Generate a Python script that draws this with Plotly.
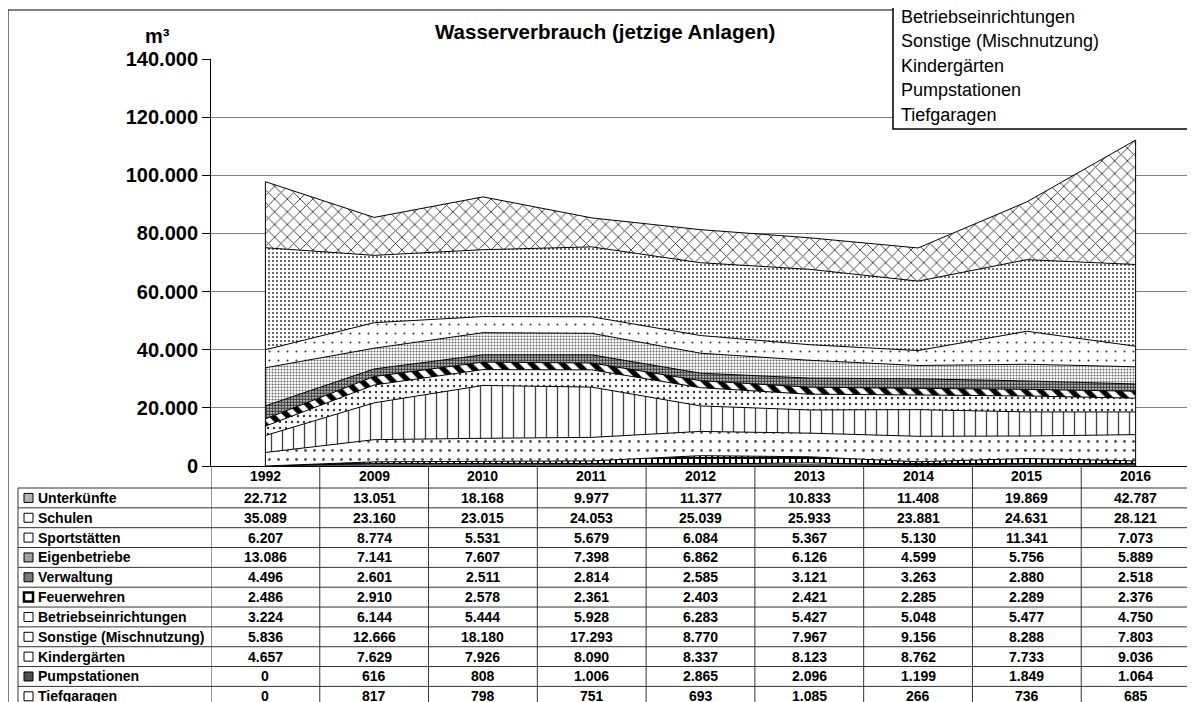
import plotly.graph_objects as go

# ---------------- data ----------------
years = ["1992", "2009", "2010", "2011", "2012", "2013", "2014", "2015", "2016"]

unterkuenfte = [22712, 13051, 18168, 9977, 11377, 10833, 11408, 19869, 42787]
schulen = [35089, 23160, 23015, 24053, 25039, 25933, 23881, 24631, 28121]
sportstaetten = [6207, 8774, 5531, 5679, 6084, 5367, 5130, 11341, 7073]
eigenbetriebe = [13086, 7141, 7607, 7398, 6862, 6126, 4599, 5756, 5889]
verwaltung = [4496, 2601, 2511, 2814, 2585, 3121, 3263, 2880, 2518]
feuerwehren = [2486, 2910, 2578, 2361, 2403, 2421, 2285, 2289, 2376]
betriebseinrichtungen = [3224, 6144, 5444, 5928, 6283, 5427, 5048, 5477, 4750]
sonstige = [5836, 12666, 18180, 17293, 8770, 7967, 9156, 8288, 7803]
kindergaerten = [4657, 7629, 7926, 8090, 8337, 8123, 8762, 7733, 9036]
pumpstationen = [0, 616, 808, 1006, 2865, 2096, 1199, 1849, 1064]
tiefgaragen = [0, 817, 798, 751, 693, 1085, 266, 736, 685]

# table order (top of table = top of stack)
series_names = ["Unterkünfte", "Schulen", "Sportstätten", "Eigenbetriebe", "Verwaltung",
                "Feuerwehren", "Betriebseinrichtungen", "Sonstige (Mischnutzung)",
                "Kindergärten", "Pumpstationen", "Tiefgaragen"]
series_values = [unterkuenfte, schulen, sportstaetten, eigenbetriebe, verwaltung,
                 feuerwehren, betriebseinrichtungen, sonstige, kindergaerten,
                 pumpstationen, tiefgaragen]
legend_visible = ["Betriebseinrichtungen", "Sonstige (Mischnutzung)", "Kindergärten",
                  "Pumpstationen", "Tiefgaragen"]

title_text = "Wasserverbrauch (jetzige Anlagen)"
unit_text = "m³"

# ---------------- styles ----------------
patterns = {
    "Unterkünfte": dict(shape="x", size=9, solidity=0.2, fgcolor="#404040"),
    "Schulen": dict(shape=".", size=4, solidity=0.17, fgcolor="#2a2a2a"),
    "Sportstätten": dict(shape=".", size=9, solidity=0.04, fgcolor="#333333"),
    "Eigenbetriebe": dict(shape=".", size=3, solidity=0.35, fgcolor="#666666"),
    "Verwaltung": dict(shape=".", size=3, solidity=0.7, fgcolor="#3a3a3a"),
    "Feuerwehren": dict(shape="\\", size=11, solidity=0.5, fgcolor="#000000"),
    "Betriebseinrichtungen": dict(shape=".", size=6, solidity=0.12, fgcolor="#333333"),
    "Sonstige (Mischnutzung)": dict(shape="|", size=11, solidity=0.12, fgcolor="#444444"),
    "Kindergärten": dict(shape=".", size=9, solidity=0.08, fgcolor="#555555"),
    "Pumpstationen": dict(shape="+", size=6, solidity=0.55, fgcolor="#000000"),
    "Tiefgaragen": dict(shape="-", size=4, solidity=0.4, fgcolor="#333333"),
}
icon_fill = ["#b4b4b4", "#ffffff", "#ffffff", "#a0a0a0", "#787878", "#ffffff",
             "#ffffff", "#ffffff", "#ffffff", "#505050", "#ffffff"]
icon_width = [1, 1, 1, 1, 1, 2.5, 1, 1, 1, 1, 1]

FONT = "Arial, Liberation Sans, sans-serif"
PAGE_W, PAGE_H = 1195, 702
OFF = 8                      # default body margin of the html page
W, H = PAGE_W - OFF, PAGE_H - OFF
L, T, PW, PH = 211, 59, 979, 407   # plot area in page pixels
ML, MT = L - OFF, T - OFF
MR = W - ML - PW
MB = H - MT - PH


def px2x(px):
    return (px - L) / PW


def py2y(py):
    return (T + PH - py) / PH


xs = list(range(len(years)))
fig = go.Figure()

# stacked areas, bottom first
for name, vals in reversed(list(zip(series_names, series_values))):
    p = patterns[name]
    fig.add_trace(go.Scatter(
        x=xs, y=vals, name=name, stackgroup="one", mode="lines",
        line=dict(color="black", width=1),
        fillcolor="white",
        fillpattern=dict(shape=p["shape"], size=p["size"], solidity=p["solidity"],
                         fgcolor=p["fgcolor"], bgcolor="white", fgopacity=1),
        hoverinfo="skip", showlegend=False))

totals = [sum(v[i] for v in series_values) for i in range(len(years))]
shapes = []
# vertical edges of the area block
for i in (0, len(years) - 1):
    shapes.append(dict(type="line", xref="x", yref="y", x0=i, x1=i, y0=0, y1=totals[i],
                       line=dict(color="black", width=1)))

# outer chart border
shapes.append(dict(type="rect", xref="paper", yref="paper", x0=px2x(8), x1=px2x(1192),
                   y0=py2y(720), y1=py2y(10), line=dict(color="black", width=1),
                   layer="below"))

# ---------------- data table ----------------
header_top, header_bottom = 466, 488
row_h = 19.84
n_rows = len(series_names)
table_bottom = header_bottom + row_h * (n_rows + 0.5)
# column separators
for k in range(len(years) + 1):
    shapes.append(dict(type="line", xref="x", yref="paper", x0=k - 0.5, x1=k - 0.5,
                       y0=py2y(header_top), y1=py2y(table_bottom),
                       line=dict(color="#333333", width=1)))
# left border of label column
shapes.append(dict(type="line", xref="paper", yref="paper", x0=px2x(18), x1=px2x(18),
                   y0=py2y(header_bottom), y1=py2y(table_bottom),
                   line=dict(color="#333333", width=1)))
# row lines
for r in range(n_rows + 1):
    yy = py2y(header_bottom + row_h * r)
    shapes.append(dict(type="line", xref="paper", yref="paper", x0=px2x(18), x1=1,
                       y0=yy, y1=yy, line=dict(color="#333333", width=1)))

annotations = []
for i, yr in enumerate(years):
    annotations.append(dict(x=i, y=py2y((header_top + header_bottom) / 2 - 1), xref="x", yref="paper",
                            text=yr, showarrow=False, xanchor="center", yanchor="middle",
                            font=dict(family=FONT, size=14, color="black", weight="bold")))


def fmt(v):
    return f"{v:,}".replace(",", ".")


for r, (name, vals) in enumerate(zip(series_names, series_values)):
    cy = header_bottom + row_h * (r + 0.5)
    annotations.append(dict(x=px2x(36), y=py2y(cy), xref="paper", yref="paper",
                            text=name, showarrow=False, xanchor="left", yanchor="middle",
                            font=dict(family=FONT, size=14, color="black", weight="bold")))
    shapes.append(dict(type="rect", xref="paper", yref="paper",
                       x0=px2x(24), x1=px2x(33), y0=py2y(cy + 4.5), y1=py2y(cy - 4.5),
                       fillcolor=icon_fill[r], line=dict(color="black", width=icon_width[r])))
    for i, v in enumerate(vals):
        annotations.append(dict(x=i, y=py2y(cy), xref="x", yref="paper",
                                text=fmt(v), showarrow=False, xanchor="center", yanchor="middle",
                                font=dict(family=FONT, size=14, color="black", weight="bold")))

# ---------------- legend box (partly cut off) ----------------
shapes.append(dict(type="rect", xref="paper", yref="paper", x0=px2x(893), x1=px2x(1210),
                   y0=py2y(129), y1=py2y(-10), fillcolor="white",
                   line=dict(color="black", width=1.5), layer="above"))
for j, name in enumerate(legend_visible):
    cy = 16.7 + 24.6 * j
    annotations.append(dict(x=px2x(899), y=py2y(cy), xref="paper", yref="paper",
                            text=name, showarrow=False, xanchor="left", yanchor="middle",
                            font=dict(family=FONT, size=18, color="black")))

# title and unit
annotations.append(dict(x=px2x(605), y=py2y(32), xref="paper", yref="paper", text=title_text,
                        showarrow=False, xanchor="center", yanchor="middle",
                        font=dict(family=FONT, size=20.5, color="black", weight="bold")))
annotations.append(dict(x=px2x(157), y=py2y(36), xref="paper", yref="paper", text=unit_text,
                        showarrow=False, xanchor="center", yanchor="middle",
                        font=dict(family=FONT, size=20, color="black", weight="bold")))

fig.update_layout(
    width=W, height=H,
    margin=dict(l=ML, r=MR, t=MT, b=MB, pad=0),
    paper_bgcolor="white", plot_bgcolor="white",
    separators=",.",
    showlegend=False,
    xaxis=dict(range=[-0.5, len(years) - 0.5], showticklabels=False, showgrid=False,
               zeroline=False, showline=True, linecolor="black", linewidth=1, ticks=""),
    yaxis=dict(range=[0, 140000], dtick=20000, tickformat=",d", showgrid=True,
               gridcolor="#7f7f7f", gridwidth=1, zeroline=False, showline=True,
               linecolor="black", linewidth=1, ticks="outside", ticklen=8,
               tickcolor="black",
               tickfont=dict(family=FONT, size=20, color="black", weight="bold")),
    shapes=shapes,
    annotations=annotations,
)

fig.write_html("out.html")
